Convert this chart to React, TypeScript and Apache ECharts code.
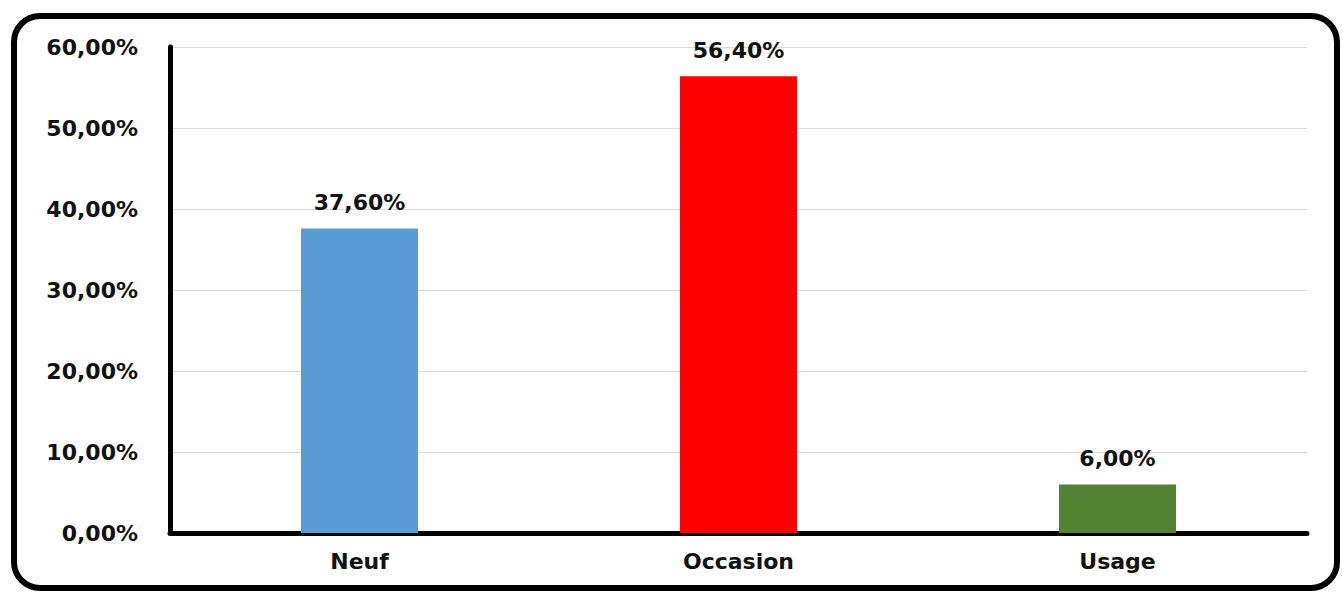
import React, { useEffect, useRef } from "react";
import * as echarts from "echarts";

// Share of each category, in percent
const categories = ["Neuf", "Occasion", "Usage"];
const shares = [37.6, 56.4, 6.0];
const barColors = ["#5B9BD5", "#FF0000", "#548235"];

const yMin = 0;
const yMax = 60;
const yStep = 10;

const fmt = (v: number) => v.toFixed(2).replace(".", ",") + "%";

const FONT = "'DejaVu Sans', Verdana, sans-serif";
const FONT_SIZE = 22;

export default function App() {
  const ref = useRef<HTMLDivElement>(null);

  useEffect(() => {
    if (!ref.current) return;
    const chart = echarts.init(ref.current, undefined, { renderer: "svg" });
    chart.setOption({
      animation: false,
      backgroundColor: "#ffffff",
      grid: { left: 170, right: 36, top: 47, bottom: 59 },
      graphic: [
        {
          type: "rect",
          shape: { x: 14, y: 16, width: 1323, height: 572, r: 26 },
          style: { fill: "none", stroke: "#000000", lineWidth: 6 },
          z: 10,
        },
      ],
      xAxis: {
        type: "category",
        data: categories,
        axisLine: { show: true, lineStyle: { color: "#000000", width: 5 } },
        axisTick: { show: false },
        axisLabel: {
          color: "#111111",
          fontFamily: FONT,
          fontWeight: "bold",
          fontSize: FONT_SIZE,
          margin: 17,
        },
      },
      yAxis: {
        type: "value",
        min: yMin,
        max: yMax,
        interval: yStep,
        axisLine: { show: true, lineStyle: { color: "#000000", width: 5 } },
        axisTick: { show: false },
        splitLine: { show: true, lineStyle: { color: "#d9d9d9", width: 1 } },
        axisLabel: {
          color: "#111111",
          fontFamily: FONT,
          fontWeight: "bold",
          fontSize: FONT_SIZE,
          margin: 32,
          formatter: (v: number) => fmt(v),
        },
      },
      series: [
        {
          type: "bar",
          barWidth: 117,
          data: shares.map((v, i) => ({ value: v, itemStyle: { color: barColors[i] } })),
          label: {
            show: true,
            position: "top",
            distance: 15,
            color: "#111111",
            fontFamily: FONT,
            fontWeight: "bold",
            fontSize: FONT_SIZE,
            formatter: (p: any) => fmt(p.value),
          },
        },
      ],
    });
    return () => chart.dispose();
  }, []);

  return (
    <div
      ref={ref}
      style={{ position: "fixed", left: 0, top: 0, width: 1343, height: 592 }}
    />
  );
}
